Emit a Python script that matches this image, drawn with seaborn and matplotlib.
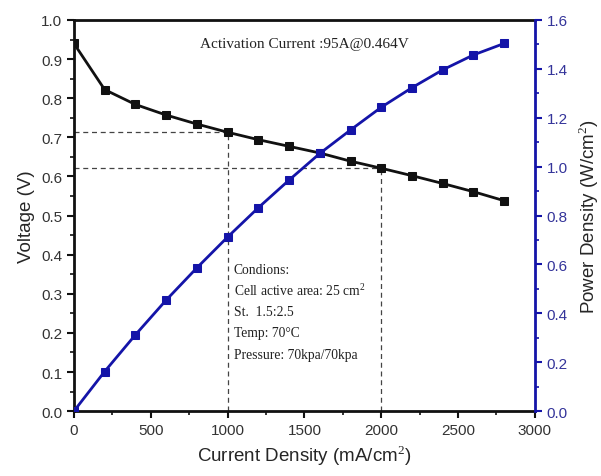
import matplotlib
matplotlib.use("Agg")
import matplotlib.pyplot as plt
from matplotlib.ticker import MultipleLocator
import seaborn as sns
import pandas as pd

current = [0, 200, 400, 600, 800, 1000, 1200, 1400, 1600, 1800, 2000, 2200, 2400, 2600, 2800]
voltage = [0.94, 0.822, 0.784, 0.757, 0.734, 0.713, 0.694, 0.677, 0.660, 0.639, 0.621, 0.602, 0.582, 0.561, 0.538]
power = [0.0, 0.162, 0.312, 0.454, 0.586, 0.712, 0.832, 0.945, 1.054, 1.150, 1.243, 1.323, 1.396, 1.457, 1.504]

ann_title = "Activation Current :95A@0.464V"
cond_lines = ["Condions:", "Cell active area: 25 cm$^2$", "St.  1.5:2.5", "Temp: 70°C", "Pressure: 70kpa/70kpa"]
marks = [(1000, 0.713), (2000, 0.621)]

sns.set_style("ticks")
plt.rcParams['font.family'] = ['Liberation Sans', 'DejaVu Sans']
plt.rcParams['mathtext.fontset'] = 'custom'
plt.rcParams['mathtext.rm'] = 'Liberation Sans'

df = pd.DataFrame({"current": current, "voltage": voltage, "power": power})

fig = plt.figure(figsize=(6.01, 4.77), dpi=100)
ax = fig.add_axes([0.123, 0.136, 0.767, 0.820])
ax2 = ax.twinx()

black = "#111111"
blue = "#1414a8"

sns.lineplot(data=df, x="current", y="voltage", ax=ax, color=black, marker="s",
             markersize=6, linewidth=2, markeredgecolor=black, zorder=3)
sns.lineplot(data=df, x="current", y="power", ax=ax2, color=blue, marker="s",
             markersize=6, linewidth=2, markeredgecolor=blue, zorder=3)

for xv, yv in marks:
    ax.plot([0, xv], [yv, yv], ls=(0, (4, 3)), color="#444444", lw=0.9, zorder=1)
    ax.plot([xv, xv], [0, yv], ls=(0, (4, 3)), color="#444444", lw=0.9, zorder=1)

ax.set_xlim(0, 3000)
ax.set_ylim(0, 1.0)
ax2.set_ylim(0, 1.6)

ax.xaxis.set_major_locator(MultipleLocator(500))
ax.xaxis.set_minor_locator(MultipleLocator(250))
ax.yaxis.set_major_locator(MultipleLocator(0.1))
ax.yaxis.set_minor_locator(MultipleLocator(0.05))
ax2.yaxis.set_major_locator(MultipleLocator(0.2))
ax2.yaxis.set_minor_locator(MultipleLocator(0.1))

ax.set_xlabel("Current Density (mA/cm$^2$)", fontsize=13.5, labelpad=4)
ax.set_ylabel("Voltage (V)", fontsize=13.5, labelpad=4)
ax2.set_ylabel("Power Density (W/cm$^2$)", fontsize=13.5, labelpad=6)

ax.tick_params(axis="both", which="major", direction="out", length=5, width=1.5, labelsize=11, colors=black, labelcolor="#333333")
ax.tick_params(axis="both", which="minor", direction="out", length=3, width=1.2, colors=black)
ax2.tick_params(axis="y", which="major", direction="out", length=5, width=1.5, labelsize=11, colors=blue, labelcolor="#34349a")
ax2.tick_params(axis="y", which="minor", direction="out", length=3, width=1.2, colors=blue)

for sp in ["left", "bottom", "top"]:
    ax.spines[sp].set_visible(True)
    ax.spines[sp].set_linewidth(2)
    ax.spines[sp].set_color(black)
ax.spines["right"].set_visible(False)
for sp in ["left", "bottom", "top"]:
    ax2.spines[sp].set_visible(False)
ax2.spines["right"].set_visible(True)
ax2.spines["right"].set_linewidth(2)
ax2.spines["right"].set_color(blue)

ax.text(820, 0.94, ann_title, fontsize=11, family=["Liberation Serif"], va="center", ha="left", color="#222222")
ys = [0.363, 0.31, 0.254, 0.2, 0.146]
for txt, yv in zip(cond_lines, ys):
    ax.text(1040, yv, txt, fontsize=9.8, family=["Liberation Serif"], va="center", ha="left", color="#222222",
            math_fontfamily="custom")
plt.rcParams['mathtext.rm'] = 'Liberation Serif'

fig.savefig("out.png", dpi=100)
